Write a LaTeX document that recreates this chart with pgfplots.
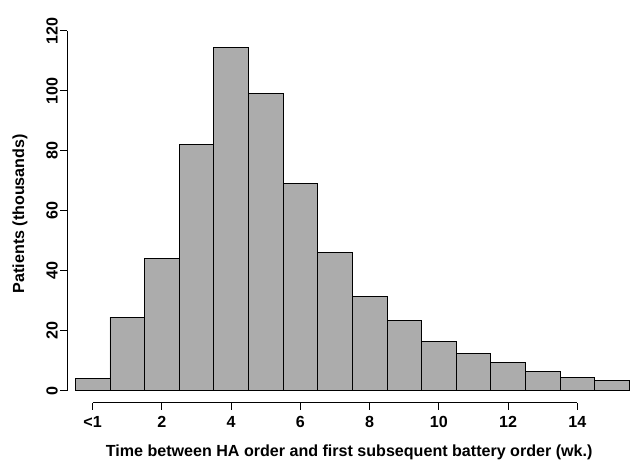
\documentclass[border={9pt 0pt 0pt 14pt}]{standalone}
\usepackage{pgfplots}
\pgfplotsset{compat=1.18}
\usepackage{fontspec}
\setmainfont{Liberation Sans}
\begin{document}
\begin{tikzpicture}
\begin{axis}[
  scale only axis, width=561pt, height=376pt,
  xmin=-0.73, xmax=15.55, ymin=-4, ymax=122,
  ybar, bar width=1, 
  axis line style={draw=none},
  xtick={0,2,4,6,8,10,12,14}, xticklabels={<1,2,4,6,8,10,12,14},
  ytick={0,20,40,60,80,100,120},
  xtick pos=bottom, ytick pos=left, tick align=outside,
  major tick length=7pt,
  tick style={black, line width=0.8pt},
  ticklabel style={font=\fontsize{16}{18}\selectfont\bfseries},
  /pgf/number format/assume math mode=true,
  yticklabel style={rotate=90, anchor=south, yshift=-1pt},
  xticklabel style={yshift=-3pt},
  xlabel={\fontsize{16}{18}\selectfont\bfseries Time between HA order and first subsequent battery order (wk.)},
  ylabel={\fontsize{16}{18}\selectfont\bfseries Patients (thousands)},
  xlabel style={yshift=-10pt},
  ylabel style={yshift=12pt},
  clip=false,
]
\addplot[fill=gray!65, draw=black, line width=0.6pt] coordinates {
(0,4) (1,24.5) (2,44) (3,82) (4,114.5) (5,99) (6,69) (7,46) (8,31.5) (9,23.5) (10,16.5) (11,12.5) (12,9.5) (13,6.5) (14,4.5) (15,3.5)};
\draw[line width=0.8pt] (axis cs:0,-4) -- (axis cs:14,-4);
\draw[line width=0.8pt] (axis cs:-0.73,0) -- (axis cs:-0.73,120);
\end{axis}
\end{tikzpicture}
\end{document}
